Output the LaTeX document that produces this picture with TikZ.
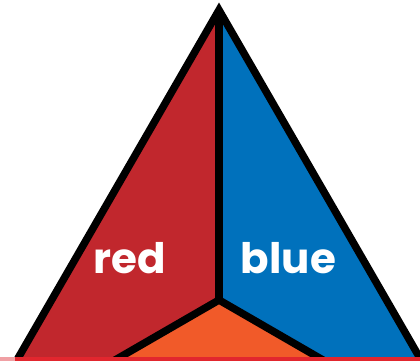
\documentclass[tikz,border=0pt]{standalone}
\usepackage{fontspec}
\setmainfont{Poppins}
\definecolor{tred}{HTML}{C1272D}
\definecolor{tblue}{HTML}{0071BC}
\definecolor{torange}{HTML}{F15A29}
\definecolor{stripred}{HTML}{E2262E}
\definecolor{strippink}{HTML}{F0A0A4}
\tikzset{
  edge/.style={line width=7.5pt, black, line join=miter, miter limit=10},
  lbl/.style={text=white, font=\fontsize{42}{42}\selectfont\bfseries, anchor=base, inner sep=0pt}
}
\begin{document}
\begin{tikzpicture}[x=1pt, y=-1pt]
\useasboundingbox (0,0) rectangle (420,360);
\begin{scope}
\clip (0,0) rectangle (420,360);
\coordinate (A) at (219,10);
\coordinate (O) at (219,300);
\coordinate (B) at (-32.1,445);
\coordinate (C) at (470.1,445);
\fill[tred] (A) -- (O) -- (B) -- cycle;
\fill[tblue] (A) -- (O) -- (C) -- cycle;
\fill[torange] (O) -- (B) -- (C) -- cycle;
\draw[edge] (A) -- (O);
\draw[edge] (B) -- (O) -- (C);
\draw[edge] (B) -- (A) -- (C) -- cycle;
\node[lbl] (red) at (129.5,273) {red};
\node[lbl] (blue) at (288.5,273) {blue};
\fill[stripred] (0,357) rectangle (420,361);
\fill[strippink] (0,357) rectangle (15,361);
\end{scope}
\end{tikzpicture}
\end{document}
